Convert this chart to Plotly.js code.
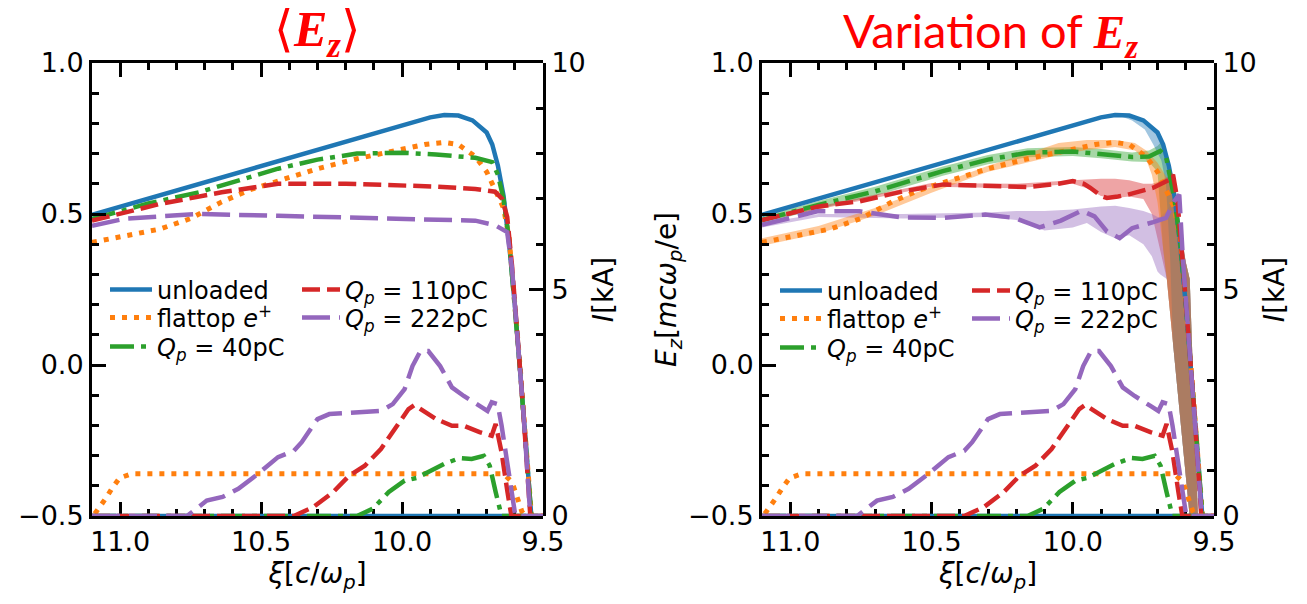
<!DOCTYPE html>
<html><head><meta charset="utf-8">
<script src="https://cdn.plot.ly/plotly-3.0.1.min.js"></script>
<style>html,body{margin:0;padding:0;background:#fff;}#chart{width:1307px;height:604px;}</style>
</head><body><div id="chart"></div>
<script>
// ---------- data ----------
const seriesNames = ['unloaded', 'flattop <i>e</i><sup>+</sup>', '<i>Q<sub>p</sub></i> = 40pC', '<i>Q<sub>p</sub></i> = 110pC', '<i>Q<sub>p</sub></i> = 222pC'];

// mean E_z (left panel)
const unloadedXi = [11.1, 10.9, 10.7, 10.5, 10.3, 10.1, 10.0, 9.9, 9.85, 9.8, 9.75, 9.7, 9.68, 9.66, 9.64, 9.62, 9.6, 9.58, 9.56, 9.54, 9.52];
const unloadedEz = [0.497, 0.551, 0.606, 0.66, 0.714, 0.768, 0.795, 0.82, 0.828, 0.826, 0.81, 0.77, 0.73, 0.66, 0.56, 0.40, 0.20, -0.02, -0.27, -0.52, -0.75];
const flattopXi = [11.1, 11.0, 10.86, 10.75, 10.64, 10.54, 10.44, 10.3, 10.16, 10.02, 9.92, 9.85, 9.8, 9.74, 9.7, 9.67, 9.64, 9.62, 9.6, 9.58, 9.56, 9.54, 9.52];
const flattopEz = [0.406, 0.425, 0.45, 0.485, 0.54, 0.58, 0.61, 0.65, 0.683, 0.711, 0.73, 0.737, 0.73, 0.69, 0.64, 0.58, 0.52, 0.42, 0.22, -0.02, -0.27, -0.52, -0.75];
const q40Xi = [11.1, 10.9, 10.72, 10.58, 10.44, 10.3, 10.16, 10.0, 9.88, 9.74, 9.68, 9.66, 9.64, 9.62, 9.6, 9.58, 9.56, 9.54, 9.52];
const q40Ez = [0.483, 0.535, 0.572, 0.61, 0.65, 0.68, 0.70, 0.703, 0.697, 0.686, 0.672, 0.63, 0.55, 0.41, 0.21, -0.03, -0.28, -0.53, -0.75];
const q110Xi = [11.1, 10.86, 10.64, 10.44, 10.2, 9.88, 9.74, 9.67, 9.645, 9.627, 9.61, 9.59, 9.57, 9.545, 9.52];
const q110Ez = [0.478, 0.533, 0.572, 0.60, 0.60, 0.591, 0.583, 0.574, 0.55, 0.49, 0.33, 0.10, -0.15, -0.50, -0.80];
const q222Xi = [11.1, 10.98, 10.86, 10.72, 10.44, 10.16, 9.88, 9.74, 9.67, 9.627, 9.61, 9.59, 9.57, 9.545, 9.52];
const q222Ez = [0.461, 0.485, 0.492, 0.50, 0.494, 0.489, 0.481, 0.478, 0.463, 0.44, 0.32, 0.10, -0.15, -0.50, -0.80];

// single-run E_z (right panel)
const q40RunXi = [11.1, 10.9, 10.7, 10.46, 10.3, 10.16, 10.0, 9.9, 9.79, 9.73, 9.69, 9.67, 9.655, 9.64, 9.62, 9.6, 9.58, 9.56, 9.54, 9.52];
const q40RunEz = [0.48, 0.53, 0.575, 0.642, 0.68, 0.703, 0.707, 0.70, 0.689, 0.69, 0.709, 0.69, 0.62, 0.55, 0.41, 0.21, -0.03, -0.28, -0.53, -0.75];
const q110RunXi = [11.1, 10.9, 10.755, 10.6, 10.458, 10.31, 10.16, 10.05, 10.0, 9.96, 9.938, 9.9, 9.879, 9.84, 9.805, 9.715, 9.656, 9.645, 9.63, 9.61, 9.59, 9.57, 9.545, 9.52];
const q110RunEz = [0.48, 0.525, 0.542, 0.575, 0.598, 0.592, 0.589, 0.60, 0.609, 0.60, 0.587, 0.56, 0.553, 0.558, 0.564, 0.587, 0.614, 0.63, 0.55, 0.33, 0.10, -0.15, -0.50, -0.80];
const q222RunXi = [11.1, 10.904, 10.755, 10.607, 10.458, 10.31, 10.206, 10.117, 10.042, 9.968, 9.923, 9.879, 9.834, 9.79, 9.715, 9.67, 9.641, 9.623, 9.61, 9.59, 9.57, 9.545, 9.52];
const q222RunEz = [0.464, 0.509, 0.509, 0.489, 0.487, 0.498, 0.487, 0.456, 0.478, 0.511, 0.492, 0.442, 0.42, 0.453, 0.473, 0.487, 0.542, 0.564, 0.35, 0.10, -0.15, -0.50, -0.80];

// spread bands (right panel)
const unloadedBandXi = [9.86, 9.82, 9.79, 9.745, 9.715, 9.686, 9.67, 9.655, 9.645, 9.63, 9.62, 9.61, 9.60, 9.586, 9.57, 9.557, 9.545];
const unloadedBandHi = [0.828, 0.827, 0.823, 0.806, 0.785, 0.75, 0.70, 0.64, 0.58, 0.48, 0.43, 0.39, 0.34, 0.285, -0.15, -0.5, -0.7];
const unloadedBandLo = [0.826, 0.82, 0.81, 0.78, 0.73, 0.676, 0.60, 0.35, 0.07, -0.075, -0.17, -0.27, -0.37, -0.5, -0.66, -0.78, -0.9];
const flattopBandXi = [11.1, 10.9, 10.7, 10.5, 10.3, 10.16, 10.05, 9.95, 9.85, 9.78, 9.74, 9.72, 9.70, 9.68, 9.667, 9.65, 9.63, 9.61, 9.60, 9.586, 9.57, 9.557, 9.545];
const flattopBandHi = [0.42, 0.46, 0.52, 0.59, 0.66, 0.70, 0.735, 0.745, 0.745, 0.735, 0.71, 0.69, 0.67, 0.64, 0.62, 0.59, 0.51, 0.39, 0.34, 0.285, -0.15, -0.5, -0.7];
const flattopBandLo = [0.395, 0.435, 0.495, 0.57, 0.64, 0.672, 0.695, 0.712, 0.722, 0.71, 0.68, 0.63, 0.54, 0.385, 0.285, 0.12, -0.075, -0.27, -0.37, -0.5, -0.66, -0.78, -0.9];
const q40BandXi = [11.1, 10.9, 10.7, 10.46, 10.3, 10.16, 10.0, 9.9, 9.79, 9.73, 9.70, 9.69, 9.68, 9.667, 9.65, 9.63, 9.61, 9.60, 9.586, 9.57, 9.557, 9.545];
const q40BandHi = [0.492, 0.543, 0.59, 0.657, 0.695, 0.718, 0.722, 0.715, 0.704, 0.71, 0.725, 0.735, 0.725, 0.70, 0.63, 0.53, 0.40, 0.34, 0.285, -0.15, -0.5, -0.7];
const q40BandLo = [0.468, 0.517, 0.56, 0.627, 0.665, 0.688, 0.692, 0.685, 0.674, 0.672, 0.64, 0.50, 0.385, 0.285, 0.12, -0.075, -0.27, -0.37, -0.5, -0.66, -0.78, -0.9];
const q110BandXi = [11.1, 10.8, 10.5, 10.2, 10.0, 9.95, 9.9, 9.85, 9.8, 9.75, 9.72, 9.70, 9.686, 9.667, 9.65, 9.64, 9.63, 9.61, 9.60, 9.586, 9.57, 9.557, 9.545];
const q110BandHi = [0.485, 0.545, 0.603, 0.60, 0.612, 0.615, 0.617, 0.617, 0.612, 0.60, 0.60, 0.605, 0.612, 0.622, 0.63, 0.63, 0.53, 0.40, 0.34, 0.285, -0.15, -0.5, -0.7];
const q110BandLo = [0.475, 0.535, 0.59, 0.585, 0.60, 0.585, 0.56, 0.553, 0.558, 0.55, 0.50, 0.42, 0.36, 0.285, 0.12, 0.02, -0.075, -0.27, -0.37, -0.5, -0.66, -0.78, -0.9];
const q222BandXi = [11.1, 10.9, 10.6, 10.3, 10.2, 10.1, 10.0, 9.95, 9.9, 9.85, 9.8, 9.75, 9.72, 9.70, 9.69, 9.667, 9.65, 9.64, 9.63, 9.61, 9.60, 9.586, 9.57, 9.557, 9.545];
const q222BandHi = [0.47, 0.50, 0.50, 0.505, 0.51, 0.51, 0.515, 0.52, 0.525, 0.527, 0.52, 0.51, 0.50, 0.49, 0.49, 0.51, 0.54, 0.56, 0.53, 0.40, 0.34, 0.285, -0.15, -0.5, -0.7];
const q222BandLo = [0.455, 0.49, 0.485, 0.49, 0.48, 0.445, 0.455, 0.47, 0.44, 0.42, 0.43, 0.40, 0.36, 0.31, 0.30, 0.285, 0.12, 0.02, -0.075, -0.27, -0.37, -0.5, -0.66, -0.78, -0.9];

// beam current profiles I [kA] (both panels)
const unloadedIXi = [11.1, 9.5];
const unloadedI = [0, 0];
const flattopIXi = [11.09, 11.072, 11.05, 11.03, 11.002, 10.96, 9.64, 9.61, 9.59, 9.575, 9.562, 9.5];
const flattopI = [0.05, 0.2, 0.4, 0.6, 0.84, 0.93, 0.93, 0.75, 0.35, 0.1, 0, 0];
const q40IXi = [11.1, 10.16, 10.104, 10.047, 9.991, 9.949, 9.907, 9.851, 9.795, 9.753, 9.71, 9.689, 9.668, 9.647, 9.5];
const q40I = [0, 0, 0.16, 0.53, 0.78, 0.84, 0.97, 1.15, 1.28, 1.26, 1.33, 1.11, 0.53, 0, 0];
const q110IXi = [11.1, 10.384, 10.314, 10.244, 10.188, 10.132, 10.075, 10.02, 9.977, 9.956, 9.921, 9.879, 9.823, 9.781, 9.725, 9.682, 9.668, 9.647, 9.626, 9.612, 9.5];
const q110I = [0, 0, 0.2, 0.53, 0.89, 1.11, 1.48, 1.99, 2.36, 2.45, 2.32, 2.14, 1.99, 1.99, 1.85, 1.77, 2.03, 1.41, 0.53, 0, 0];
const q222IXi = [11.1, 10.763, 10.693, 10.637, 10.581, 10.511, 10.44, 10.384, 10.356, 10.30, 10.258, 10.16, 10.075, 10.033, 9.991, 9.963, 9.935, 9.907, 9.865, 9.823, 9.781, 9.725, 9.697, 9.682, 9.661, 9.647, 9.626, 9.612, 9.598, 9.5];
const q222I = [0, 0, 0.34, 0.42, 0.6, 0.93, 1.30, 1.44, 1.63, 2.14, 2.25, 2.29, 2.32, 2.47, 2.80, 3.31, 3.64, 3.64, 3.31, 2.84, 2.65, 2.43, 2.32, 2.51, 2.47, 2.0, 1.11, 0.45, 0, 0];

// ---------- styles ----------
const colors = ['#1f77b4', '#ff7f0e', '#2ca02c', '#d62728', '#9467bd'];
const fills = ['rgba(31,119,180,0.42)', 'rgba(255,127,14,0.42)', 'rgba(44,160,44,0.42)', 'rgba(214,39,40,0.42)', 'rgba(148,103,189,0.42)'];
const bandOrder = [2, 3, 4, 0, 1];
const dashes = ['solid', '5px,7px', '24px,7px,5px,7px', '18px,7px', '28px,9px'];
const widths = [4.5, 5, 4.5, 4.5, 4.5];

const meanX = [unloadedXi, flattopXi, q40Xi, q110Xi, q222Xi];
const meanY = [unloadedEz, flattopEz, q40Ez, q110Ez, q222Ez];
const runX = [unloadedXi, flattopXi, q40RunXi, q110RunXi, q222RunXi];
const runY = [unloadedEz, flattopEz, q40RunEz, q110RunEz, q222RunEz];
const bandX = [unloadedBandXi, flattopBandXi, q40BandXi, q110BandXi, q222BandXi];
const bandLo = [unloadedBandLo, flattopBandLo, q40BandLo, q110BandLo, q222BandLo];
const bandHi = [unloadedBandHi, flattopBandHi, q40BandHi, q110BandHi, q222BandHi];
const curX = [unloadedIXi, flattopIXi, q40IXi, q110IXi, q222IXi];
const curY = [unloadedI, flattopI, q40I, q110I, q222I];

function lineTrace(x, y, i, xa, ya, legendName, show) {
  const t = {x: x, y: y, xaxis: xa, yaxis: ya, type: 'scatter', mode: 'lines', name: seriesNames[i],
    line: {color: colors[i], width: widths[i], dash: dashes[i]}, showlegend: show};
  if (show) t.legend = legendName;
  return t;
}
const traces = [];
// left panel: mean E_z first
for (let i = 0; i < 5; i++) traces.push(lineTrace(meanX[i], meanY[i], i, 'x', 'y', i === 0 ? 'legend' : 'legend' + (i + 1), true));
// right panel: bands then single-run E_z
for (const i of bandOrder) {
  traces.push({
    x: bandX[i].concat(bandX[i].slice().reverse()),
    y: bandLo[i].concat(bandHi[i].slice().reverse()),
    xaxis: 'x2', yaxis: 'y3', type: 'scatter', mode: 'lines',
    fill: 'toself', fillcolor: fills[i], line: {width: 0, color: 'rgba(0,0,0,0)'},
    showlegend: false, hoverinfo: 'skip'
  });
}
for (let i = 0; i < 5; i++) traces.push(lineTrace(runX[i], runY[i], i, 'x2', 'y3', 'legend' + (i + 6), true));
// current profiles on the right-hand axes
for (let i = 0; i < 5; i++) traces.push(lineTrace(curX[i], curY[i], i, 'x', 'y2', null, false));
for (let i = 0; i < 5; i++) traces.push(lineTrace(curX[i], curY[i], i, 'x2', 'y4', null, false));

// ---------- layout ----------
const tickFont = {family: 'DejaVu Sans', size: 27, color: '#000'};
const titleFont = {family: 'DejaVu Sans', size: 28, color: '#000'};
function baseAxis() {
  return {showline: true, linecolor: '#000', linewidth: 3, ticks: 'inside', tickcolor: '#000', tickwidth: 3, ticklen: 14,
    showgrid: false, zeroline: false, tickfont: tickFont};
}
function xAxis(domain, anchor) {
  return Object.assign(baseAxis(), {domain: domain, anchor: anchor, range: [11.1, 9.5], tick0: 9.5, dtick: 0.5,
    tickformat: '.1f', mirror: 'ticks',
    minor: {ticks: 'inside', ticklen: 7, dtick: 0.1},
    title: {text: '<i>ξ</i>[<i>c</i>/<i>ω<sub>p</sub></i>]', font: titleFont, standoff: 4}});
}
function yLeft(anchor, title) {
  const a = Object.assign(baseAxis(), {domain: [0, 1], anchor: anchor, range: [-0.5, 1.0], tick0: -0.5, dtick: 0.5,
    tickformat: '.1f', minor: {ticks: 'inside', ticklen: 7, dtick: 0.1}});
  if (title) a.title = {text: title, font: titleFont, standoff: 4};
  return a;
}
function yRight(anchor) {
  // separate right-hand axis spanning the same plot area (no overlaying)
  return Object.assign(baseAxis(), {domain: [0, 1], side: 'right', anchor: anchor, range: [0, 10], tick0: 0, dtick: 5,
    minor: {ticks: 'inside', ticklen: 7, dtick: 1},
    title: {text: '<i>I</i>[kA]', font: titleFont, standoff: 9}});
}
const W = 1122, H = 453, L = 92, T = 63;
function px2x(px) { return (px - L) / W; }
function px2y(py) { return (T + H - py) / H; }
function legendAt(px, py, iw) {
  return {x: px2x(px), y: px2y(py), xanchor: 'left', yanchor: 'middle', bgcolor: 'rgba(0,0,0,0)', borderwidth: 0,
    font: {family: 'DejaVu Sans', size: 24, color: '#000'}, itemwidth: iw, tracegroupgap: 0, valign: 'middle'};
}
const legendCols = [105, 105, 105, 297, 297];
const legendRows = [290, 318, 347, 290, 318];

const layout = {
  width: 1307, height: 604, margin: {l: L, r: 1307 - L - W, t: T, b: 604 - T - H},
  paper_bgcolor: '#fff', plot_bgcolor: 'rgba(0,0,0,0)', font: {family: 'DejaVu Sans', color: '#000'},
  xaxis: xAxis([0, 451 / W], 'y'),
  yaxis: yLeft('x', null),
  yaxis2: yRight('x'),
  xaxis2: xAxis([670 / W, 1], 'y3'),
  yaxis3: yLeft('x2', '<i>E<sub>z</sub></i>[<i>mcω<sub>p</sub></i>/e]'),
  yaxis4: yRight('x2'),
  annotations: [
    {text: '⟨<b><i>E<sub>z</sub></i></b>⟩', xref: 'paper', yref: 'paper', x: px2x(317), y: px2y(33), xanchor: 'center', yanchor: 'middle',
      showarrow: false, font: {family: 'Liberation Serif', size: 50, color: '#ff0000'}},
    {text: 'Variation of <span style="font-family:Liberation Serif"><b><i>E<sub>z</sub></i></b></span>', xref: 'paper', yref: 'paper',
      x: px2x(990), y: px2y(33), xanchor: 'center', yanchor: 'middle', showarrow: false,
      font: {family: 'Lato', size: 47, color: '#ff0000'}}
  ],
  showlegend: true
};
for (let i = 0; i < 5; i++) {
  layout[i === 0 ? 'legend' : 'legend' + (i + 1)] = legendAt(legendCols[i], legendRows[i], i < 3 ? 42 : 38);
  layout['legend' + (i + 6)] = legendAt(legendCols[i] + 670, legendRows[i] + 1, i < 3 ? 42 : 38);
}
Plotly.newPlot('chart', traces, layout, {displayModeBar: false, staticPlot: true});
</script></body></html>
